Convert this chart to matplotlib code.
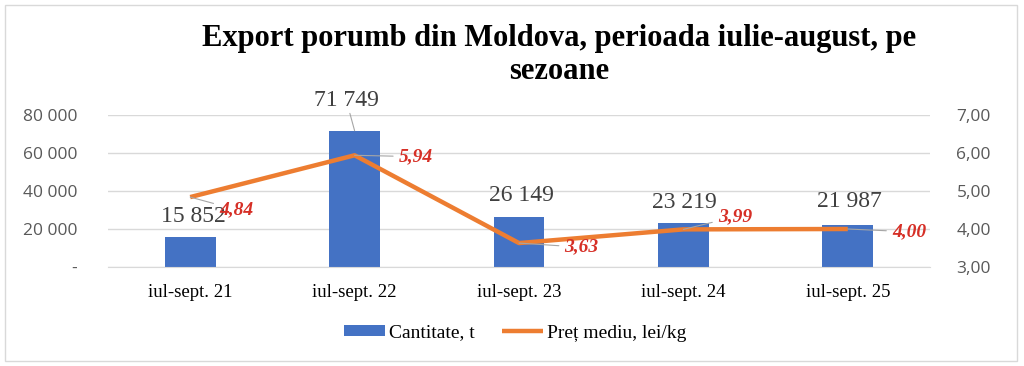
import matplotlib.pyplot as plt
from matplotlib.patches import Rectangle
from matplotlib.ticker import FuncFormatter

sezoane = ["iul-sept. 21", "iul-sept. 22", "iul-sept. 23", "iul-sept. 24", "iul-sept. 25"]
cantitate = [15852, 71749, 26149, 23219, 21987]
pret = [4.84, 5.94, 3.63, 3.99, 4.00]

# pozitia etichetelor (offset in puncte)
off_cant = [(2, 15), (-6, 22), (2, 16), (1, 15), (1, 17)]
off_pret = [(33, -9), (44, -1), (45, -3), (37, 9), (44, -2)]
leader_cant = [False, True, False, False, False]

serif = "Liberation Serif"
blue = "#4472C4"
orange = "#ED7D31"
red = "#D62F26"
grid = "#D9D9D9"
tick_col = "#595959"

fig = plt.figure(figsize=(10.24, 3.66), dpi=100)
ax = fig.add_axes([108 / 1024, 1 - 267 / 366, (930 - 108) / 1024, 152 / 366])
ax2 = ax.twinx()

x = range(len(sezoane))
bars = ax.bar(x, cantitate, width=0.31, color=blue, label="Cantitate, t", zorder=2)
line, = ax2.plot(x, pret, color=orange, lw=3.2, label="Preț mediu, lei/kg",
                 solid_capstyle="butt", zorder=3)

ax.set_xlim(-0.5, len(sezoane) - 0.5)
ax.set_ylim(0, 80000)
ax.set_yticks([0, 20000, 40000, 60000, 80000])
ax.yaxis.set_major_formatter(FuncFormatter(
    lambda v, p: "-" if v == 0 else f"{int(v):,}".replace(",", " ")))
ax2.set_ylim(3, 7)
ax2.set_yticks([3, 4, 5, 6, 7])
ax2.yaxis.set_major_formatter(FuncFormatter(lambda v, p: f"{v:.2f}".replace(".", ",")))

ax.grid(axis="y", color=grid, lw=1, zorder=0)
ax.set_axisbelow(True)
for a in (ax, ax2):
    for s in a.spines.values():
        s.set_visible(False)
ax.spines["bottom"].set_visible(True)
ax.spines["bottom"].set_color(grid)

ax.set_xticks(list(x))
ax.set_xticklabels(sezoane, fontfamily=serif, fontsize=13.5, color="black")
ax.tick_params(axis="x", length=0, pad=12)
ax.tick_params(axis="y", length=0, pad=22, labelsize=12.5, labelcolor=tick_col)
ax2.tick_params(axis="y", length=0, pad=19, labelsize=12.5, labelcolor=tick_col)
for lab in ax.get_yticklabels() + ax2.get_yticklabels():
    lab.set_fontfamily("Open Sans")

for i, v in enumerate(cantitate):
    arrow = dict(arrowstyle="-", color="#A6A6A6", lw=0.8, shrinkA=0, shrinkB=0) if leader_cant[i] else None
    ax.annotate(f"{v:,}".replace(",", " "), (i, v), xytext=off_cant[i], textcoords="offset points",
                ha="center", va="center", fontfamily=serif, fontsize=17, color="#404040",
                arrowprops=arrow, zorder=4)

for i, p in enumerate(pret):
    ax2.annotate(f"{p:.2f}".replace(".", ","), (i, p), xytext=off_pret[i], textcoords="offset points",
                 ha="center", va="center", fontfamily=serif, fontsize=14, color=red,
                 fontweight="bold", fontstyle="italic",
                 arrowprops=dict(arrowstyle="-", color="#A6A6A6", lw=0.8, shrinkA=2, shrinkB=0),
                 zorder=4)

fig.text(0.546, 0.849, "Export porumb din Moldova, perioada iulie-august, pe\nsezoane",
         ha="center", va="center", fontfamily=serif, fontsize=22, fontweight="bold",
         linespacing=1.2)

fig.legend(handles=[bars, line], loc="center", bbox_to_anchor=(0.503, 1 - 333 / 366), ncol=2,
           frameon=False, prop={"family": serif, "size": 14}, handlelength=2.1, handleheight=0.55,
           handletextpad=0.2, columnspacing=1.4)

fig.patches.append(Rectangle((5 / 1024, 5 / 366), 1012 / 1024, 356 / 366, transform=fig.transFigure,
                             fill=False, edgecolor=grid, lw=1))

fig.savefig("out.png", dpi=100)
